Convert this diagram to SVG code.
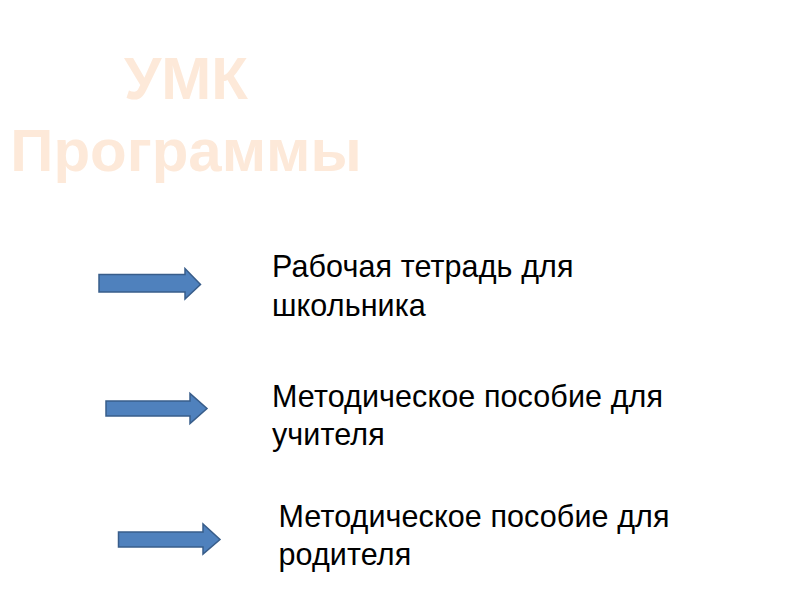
<svg xmlns="http://www.w3.org/2000/svg" width="800" height="600" viewBox="0 0 800 600">
<style>
.title{font-family:"Liberation Sans",Arial,sans-serif;font-weight:bold;font-size:60px;fill:#FDE9D9;text-anchor:middle}
.lbl{font-family:"Liberation Sans",Arial,sans-serif;font-size:30.5px;letter-spacing:0.1px;fill:#000}
.arr{fill:#4F81BD;stroke:#385D8A;stroke-width:1.5;stroke-linejoin:miter}
</style>
<rect width="800" height="600" fill="#fff"/>
<g id="title">
<text class="title" x="186" y="99">УМК</text>
<text class="title" x="186" y="171">Программы</text>
</g>
<g id="connectors">
<path id="arrow1" class="arr" d="M99,274.5 H185 V268.5 L200.5,284.5 L185,299 V292 H99 Z"/>
<path id="arrow2" class="arr" d="M106,401 H190 V393.5 L207,408.5 L190,423.5 V416 H106 Z"/>
<path id="arrow3" class="arr" d="M118.5,532 H203 V524 L220,539.5 L203,554 V547 H118.5 Z"/>
</g>
<g id="node1">
<text class="lbl" x="272" y="277">Рабочая тетрадь для</text>
<text class="lbl" x="272" y="315.5">школьника</text>
</g>
<g id="node2">
<text class="lbl" x="272" y="407">Методическое пособие для</text>
<text class="lbl" x="272" y="445">учителя</text>
</g>
<g id="node3">
<text class="lbl" x="278.5" y="527">Методическое пособие для</text>
<text class="lbl" x="278.5" y="565">родителя</text>
</g>
</svg>
